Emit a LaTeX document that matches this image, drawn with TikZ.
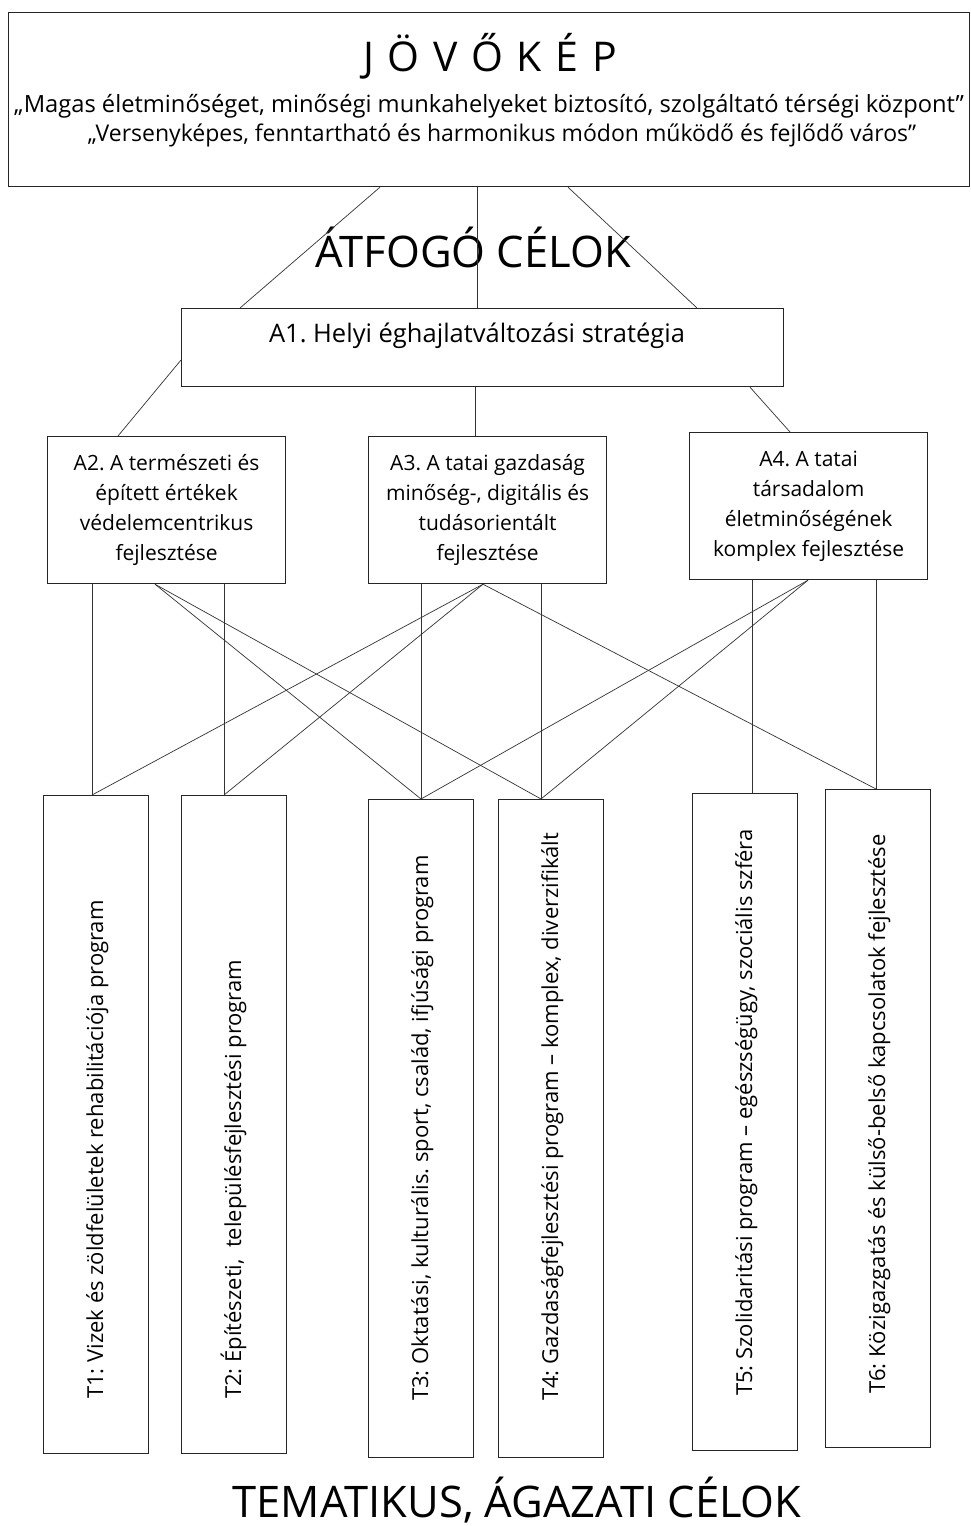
\documentclass[tikz,border=0pt]{standalone}
\usepackage{fontspec}
\setmainfont{Open Sans}
\frenchspacing
\begin{document}
\begin{tikzpicture}[x=1pt,y=-1pt,
  box/.style={draw=black!85, line width=1.2pt, inner sep=0pt, anchor=north west},
  link/.style={draw=black!80, line width=0.7pt},
  txt/.style={inner sep=0pt, text=black},
  atxt/.style={align=center, font=\fontsize{21}{30}\selectfont, text=black},
  ttxt/.style={inner sep=0pt, rotate=90, anchor=base west, font=\fontsize{22}{24}\selectfont, text=black},
  big/.style={inner sep=0pt, font=\fontsize{43.5}{46}\selectfont, text=black}]
\useasboundingbox (0,0) rectangle (971,1526);
\fill[white] (0,0) rectangle (971,1526);

% vision box
\node[box, minimum width=961pt, minimum height=174pt] (vis) at (8,12) {};
\node[txt, font=\fontsize{41}{44}\selectfont] (vistitle) at (490,56) {J\,\,Ö\,\,V\,\,Ő\,\,K\,\,É\,\,P};
\node[txt, font=\fontsize{23.7}{26}\selectfont] (visl1) at (489,106) {„Magas életminőséget, minőségi munkahelyeket biztosító, szolgáltató térségi központ”};
\node[txt, font=\fontsize{23}{26}\selectfont] (visl2) at (502,135) {„Versenyképes, fenntartható és harmonikus módon működő és fejlődő város"};

% A1
\node[box, minimum width=602pt, minimum height=78pt] (a1) at (181,308) {};
\node[txt, font=\fontsize{25.5}{28}\selectfont] (a1txt) at (477,336) {A1. Helyi éghajlatváltozási stratégia};

\node[big] (atfogo) at (473,247) {ÁTFOGÓ CÉLOK};

% A2-A4
\node[box, minimum width=238pt, minimum height=147pt] (a2) at (47,436) {};
\node[atxt] (a2txt) at (a2.center) {A2. A természeti és\\épített értékek\\védelemcentrikus\\fejlesztése};
\node[box, minimum width=238pt, minimum height=147pt] (a3) at (368,436) {};
\node[atxt] (a3txt) at (a3.center) {A3. A tatai gazdaság\\minőség-, digitális és\\tudásorientált\\fejlesztése};
\node[box, minimum width=238pt, minimum height=147pt] (a4) at (689,432) {};
\node[atxt] (a4txt) at (a4.center) {A4. A tatai\\társadalom\\életminőségének\\komplex fejlesztése};

% T boxes
\node[box, minimum width=105pt, minimum height=658pt] (t1) at (43,795) {};
\node[box, minimum width=105pt, minimum height=658pt] (t2) at (181,795) {};
\node[box, minimum width=105pt, minimum height=658pt] (t3) at (368,799) {};
\node[box, minimum width=105pt, minimum height=658pt] (t4) at (498,799) {};
\node[box, minimum width=105pt, minimum height=657pt] (t5) at (692,793) {};
\node[box, minimum width=105pt, minimum height=658pt] (t6) at (825,789) {};

\node[ttxt] (t1txt) at (103,1399) {T1: Vizek és zöldfelületek rehabilitációja program};
\node[ttxt] (t2txt) at (241,1399) {T2: Építészeti,\ \ településfejlesztési program};
\node[ttxt] (t3txt) at (428,1401) {T3: Oktatási, kulturális. sport, család, ifjúsági program};
\node[ttxt] (t4txt) at (558,1401) {T4: Gazdaságfejlesztési program – komplex, diverzifikált};
\node[ttxt] (t5txt) at (752,1396) {T5: Szolidaritási program – egészségügy, szociális szféra};
\node[ttxt] (t6txt) at (885,1394) {T6: Közigazgatás és külső-belső kapcsolatok fejlesztése};

\node[big] (tema) at (517,1500) {TEMATIKUS, ÁGAZATI CÉLOK};

% vision -> A1
\draw[link] ([xshift=372pt]vis.south west) -- ([xshift=59pt]a1.north west);
\draw[link] ([xshift=469pt]vis.south west) -- ([xshift=296pt]a1.north west);
\draw[link] ([xshift=560pt]vis.south west) -- ([xshift=516pt]a1.north west);

% A1 -> A2..A4
\draw[link] ([yshift=-52pt]a1.north west) -- ([xshift=71pt]a2.north west);
\draw[link] ([xshift=294pt]a1.south west) -- ([xshift=107pt]a3.north west);
\draw[link] ([xshift=569pt]a1.south west) -- ([xshift=101pt]a4.north west);

% A2 -> T
\draw[link] ([xshift=45pt]a2.south west) -- ([xshift=49pt]t1.north west);
\draw[link] ([xshift=177pt]a2.south west) -- ([xshift=43pt]t2.north west);
\draw[link] ([xshift=108pt]a2.south west) -- ([xshift=53pt]t3.north west);
\draw[link] ([xshift=108pt]a2.south west) -- ([xshift=43pt]t4.north west);

% A3 -> T
\draw[link] ([xshift=53pt]a3.south west) -- ([xshift=53pt]t3.north west);
\draw[link] ([xshift=173pt]a3.south west) -- ([xshift=43pt]t4.north west);
\draw[link] ([xshift=115pt]a3.south west) -- ([xshift=49pt]t1.north west);
\draw[link] ([xshift=115pt]a3.south west) -- ([xshift=43pt]t2.north west);
\draw[link] ([xshift=115pt]a3.south west) -- ([xshift=51pt]t6.north west);

% A4 -> T
\draw[link] ([xshift=63pt]a4.south west) -- ([xshift=60pt]t5.north west);
\draw[link] ([xshift=187pt]a4.south west) -- ([xshift=51pt]t6.north west);
\draw[link] ([xshift=119pt]a4.south west) -- ([xshift=53pt]t3.north west);
\draw[link] ([xshift=119pt]a4.south west) -- ([xshift=43pt]t4.north west);
\end{tikzpicture}
\end{document}
